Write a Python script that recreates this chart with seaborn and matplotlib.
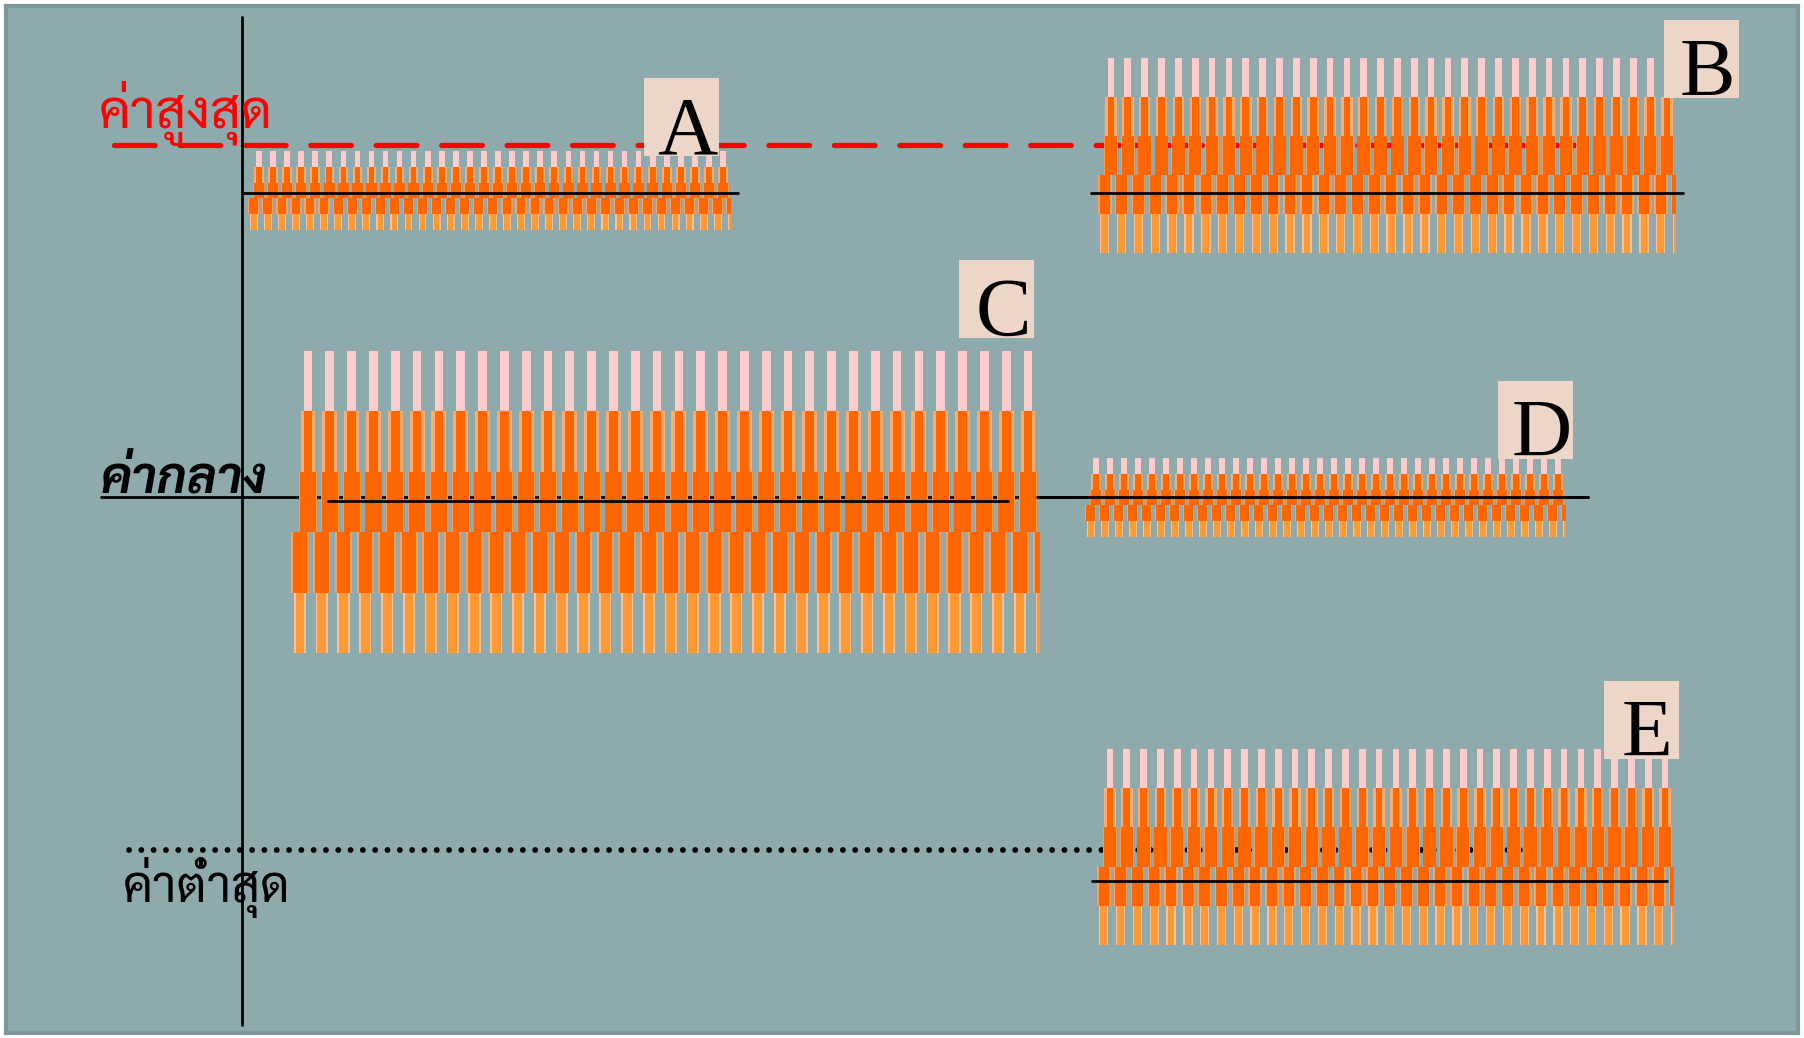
import numpy as np
import matplotlib
matplotlib.use('Agg')
import matplotlib.pyplot as plt
from matplotlib.patches import Rectangle
import seaborn as sns

# groups (boxes drawn as combs of 34 columns, 5 equal bands each)
groups = ['A', 'B', 'C', 'D', 'E']
n_cols = [34, 34, 34, 34, 34]
x_first = [25.9, 111.1, 30.8, 109.6, 111.0]
x_last = [72.3, 166.7, 102.8, 155.8, 166.5]
low = [80.8, 78.5, 38.5, 50.1, 9.3]
high = [88.7, 98.0, 68.7, 58.0, 28.9]
median = [84.5, 84.5, 53.7, 54.1, 15.7]
median_from = [24.2, 109.1, 32.8, 103.7, 109.2]
median_to = [73.8, 168.3, 100.8, 158.8, 166.7]

# reference lines
ref_names = ['ค่าสูงสุด', 'ค่ากลาง', 'ค่าต่ำสุด']
ref_values = [89.3, 54.1, 18.8]
ref_from = [11.4, 10.1, 12.9]
ref_to = [157.5, 158.8, 154.0]

sns.set_theme(style='white')
plt.rcParams['font.family'] = ['Sarabun', 'DejaVu Sans']

bg = '#8eaaad'
fig = plt.figure(figsize=(18.04, 10.38), dpi=100, facecolor='white')
ax = fig.add_axes([6 / 1804, 5 / 1038, 1792 / 1804, 1027 / 1038])
ax.set_facecolor(bg)

# reference lines (behind the combs)
ax.plot([ref_from[0], ref_to[0]], [ref_values[0]] * 2, color='#ff0000', lw=3.8,
        dashes=(7.7, 4.7), dash_capstyle='round', zorder=1)
ax.plot([ref_from[1], ref_to[1]], [ref_values[1]] * 2, color='black', lw=2, zorder=1)
ax.plot([ref_from[2], ref_to[2]], [ref_values[2]] * 2, color='black', lw=4.2,
        dashes=(0.01, 2.1), dash_capstyle='round', zorder=1)

# vertical axis
ax.plot([24.2, 24.2], [1.3, 102.1], color='black', lw=2, zorder=6)

# band styles: (width frac, colour, shift frac)
band_styles = [
    [(0.40, '#ffcccc', 0.0)],
    [(0.68, '#ffad70', 0.0), (0.40, '#ff6600', 0.0)],
    [(0.82, '#ff9a50', 0.0), (0.74, '#ff6600', 0.0)],
    [(0.80, '#ffa060', -0.37), (0.62, '#ff6600', -0.37)],
    [(0.56, '#ffc09a', -0.37), (0.40, '#ff9933', -0.37)],
]

for g in range(len(groups)):
    xs = np.linspace(x_first[g], x_last[g], n_cols[g])
    step = xs[1] - xs[0]
    h = (high[g] - low[g]) / 5
    # lower rows are offset, the pattern is cut at the right edge of the box
    clip = Rectangle((x_first[g] - 2 * step, low[g]), x_last[g] - x_first[g] + 2.55 * step,
                     high[g] - low[g], transform=ax.transData)
    for b in range(5):
        bottom = high[g] - (b + 1) * h
        for frac, col, shift in band_styles[b]:
            pos = xs + shift * step
            if shift:
                pos = np.append(pos, pos[-1] + step)
            n0 = len(ax.patches)
            sns.barplot(x=pos, y=np.full(len(pos), h), native_scale=True,
                        orient='x', width=frac, color=col, saturation=1, errorbar=None,
                        bottom=bottom, linewidth=0, ax=ax, zorder=3)
            for p in ax.patches[n0:]:
                p.set_clip_path(clip)
    ax.plot([median_from[g], median_to[g]], [median[g]] * 2, color='black', lw=2, zorder=5)

# label boxes
label_x = [68.15, 170.15, 99.7, 153.6, 164.15]
label_y = [92.1, 97.9, 73.9, 61.8, 31.8]
for g, name in enumerate(groups):
    ax.add_patch(Rectangle((label_x[g] - 3.75, label_y[g] - 3.9), 7.5, 7.8,
                           facecolor='#ebd6c8', edgecolor='none', zorder=7))
    ax.text(label_x[g] + 0.6, label_y[g] - 3.6, name, ha='center', va='baseline',
            fontsize=60, family='Liberation Serif', color='black', zorder=8)

# thai labels
ax.text(9.9, 91.0, ref_names[0], color='#ff0000', fontsize=38, ha='left', va='baseline', zorder=8)
ax.text(10.1, 54.6, ref_names[1], color='black', fontsize=36, fontweight='bold',
        style='italic', ha='left', va='baseline', zorder=8)
ax.text(12.3, 13.6, ref_names[2], color='black', fontsize=36, ha='left', va='baseline', zorder=8)

ax.set_xlim(0.6, 179.8)
ax.set_ylim(0.5, 103.2)
ax.set_xticks([])
ax.set_yticks([])
ax.set_xlabel('')
ax.set_ylabel('')
for s in ax.spines.values():
    s.set_color('#7d979a')
    s.set_linewidth(3)

fig.savefig('out.png', dpi=100, facecolor='white')
